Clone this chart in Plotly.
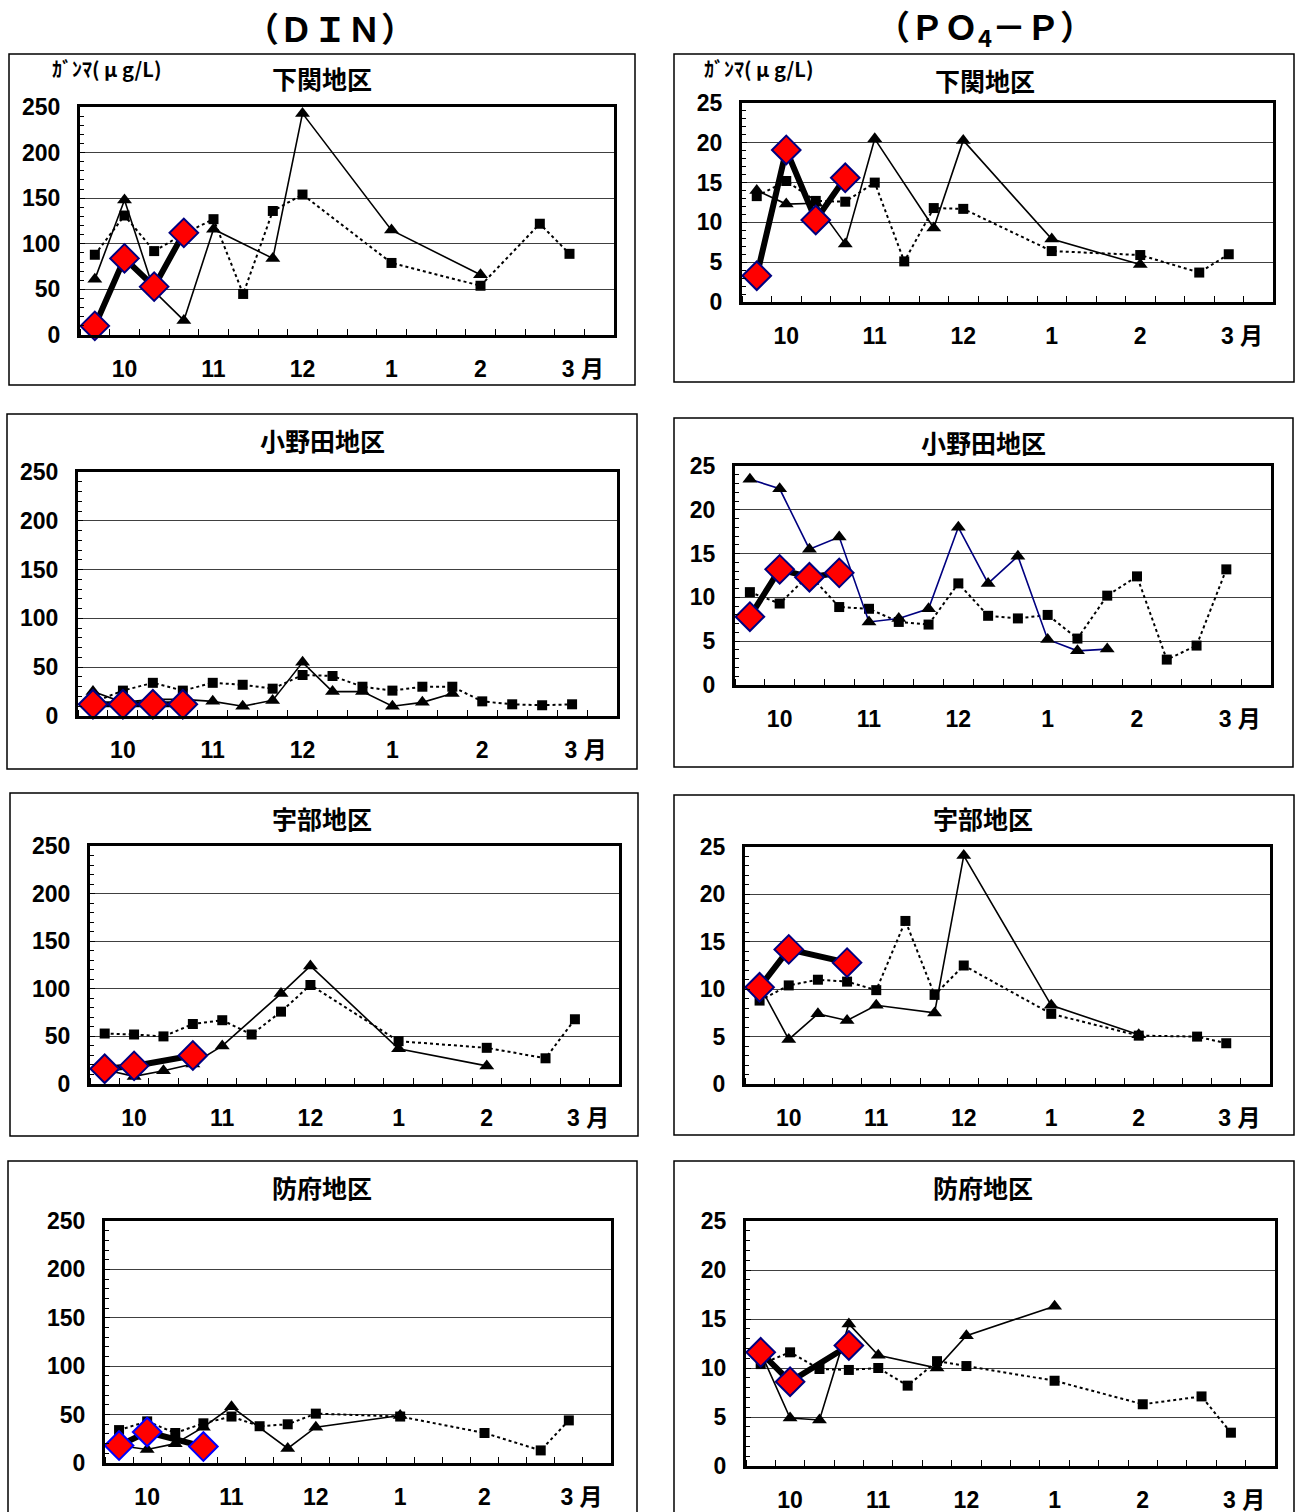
import plotly.graph_objects as go

W, H = 1297, 1512

# ---------------- data ----------------
MONTH_LABELS = ["10", "11", "12", "1", "2", "3 月"]
DIN_TICKS = [0, 50, 100, 150, 200, 250]
PO4_TICKS = [0, 5, 10, 15, 20, 25]
HEADERS = ["（ＤＩＮ）", "（ＰＯ<sub>4</sub>－Ｐ）"]
UNIT_LABEL = "ｶﾞﾝﾏ( μ g/L)"
AREAS = ["下関地区", "小野田地区", "宇部地区", "防府地区"]

N = None
# 18 slots: early / middle / late third of each month, Oct .. Mar
din_shimo_avg = [88, 131, 92, 111, 127, 45, 136, 154, N, N, 79, N, N, 54, N, 122, 89, N]
din_shimo_prev = [61, 148, 48, 16, 116, N, 84, 243, N, N, 115, N, N, 66, N, N, N, N]
din_shimo_cur = [10, 84, 53, 112, N, N, N, N, N, N, N, N, N, N, N, N, N, N]

po4_shimo_avg = [13.3, 15.2, 12.7, 12.6, 15.0, 5.1, 11.8, 11.7, N, N, 6.4, N, N, 5.9, N, 3.7, 6.0, N]
po4_shimo_prev = [14.0, 12.3, 12.4, 7.3, 20.5, N, 9.3, 20.3, N, N, 7.9, N, N, 4.7, N, N, N, N]
po4_shimo_cur = [3.3, 19.1, 10.3, 15.6, N, N, N, N, N, N, N, N, N, N, N, N, N, N]

din_onoda_avg = [14, 26, 34, 26, 34, 32, 28, 42, 41, 30, 26, 30, 30, 15, 12, 11, 12, N]
din_onoda_prev = [25, 14, 17, 17, 15, 10, 16, 55, 25, 25, 10, 14, 23, N, N, N, N, N]
din_onoda_cur = [12, 12, 12, 12, N, N, N, N, N, N, N, N, N, N, N, N, N, N]

po4_onoda_avg = [10.6, 9.3, 12.6, 8.9, 8.7, 7.2, 6.9, 11.6, 7.9, 7.6, 8.0, 5.3, 10.2, 12.4, 2.9, 4.5, 13.2, N]
po4_onoda_prev = [23.5, 22.4, 15.5, 16.9, 7.2, 7.6, 8.7, 18.0, 11.6, 14.7, 5.2, 3.9, 4.1, N, N, N, N, N]
po4_onoda_cur = [7.8, 13.2, 12.3, 12.8, N, N, N, N, N, N, N, N, N, N, N, N, N, N]

din_ube_avg = [53, 52, 50, 63, 67, 52, 76, 104, N, N, 45, N, N, 38, N, 27, 68, N]
din_ube_prev = [15, 8, 14, 21, 40, N, 95, 124, N, N, 37, N, N, 19, N, N, N, N]
din_ube_cur = [16, 19, N, 30, N, N, N, N, N, N, N, N, N, N, N, N, N, N]

po4_ube_avg = [8.8, 10.4, 11.0, 10.8, 9.9, 17.2, 9.4, 12.5, N, N, 7.4, N, N, 5.1, N, 5.0, 4.3, N]
po4_ube_prev = [10.4, 4.7, 7.4, 6.7, 8.3, N, 7.5, 24.1, N, N, 8.3, N, N, 5.2, N, N, N, N]
po4_ube_cur = [10.2, 14.2, N, 12.8, N, N, N, N, N, N, N, N, N, N, N, N, N, N]

din_hofu_avg = [34, 43, 31, 41, 48, 38, 40, 51, N, N, 48, N, N, 31, N, 13, 44, N]
din_hofu_prev = [18, 14, 20, 37, 58, N, 15, 37, N, N, 49, N, N, N, N, N, N, N]
din_hofu_cur = [18, 32, N, 17, N, N, N, N, N, N, N, N, N, N, N, N, N, N]

po4_hofu_avg = [10.4, 11.6, 9.9, 9.8, 10.0, 8.2, 10.7, 10.2, N, N, 8.7, N, N, 6.3, N, 7.1, 3.4, N]
po4_hofu_prev = [11.6, 4.9, 4.7, 14.5, 11.3, N, 10.0, 13.3, N, N, 16.3, N, N, N, N, N, N, N]
po4_hofu_cur = [11.6, 8.6, N, 12.3, N, N, N, N, N, N, N, N, N, N, N, N, N, N]

# ---------------- layout (pixel geometry) ----------------
PANELS = [
    dict(series=(din_shimo_avg, din_shimo_prev, din_shimo_cur), kind="din", area=0,
         plot=(80, 614, 107, 335), outer=(9, 635, 54, 385), ty=78, tx=322, unit=(106, 68)),
    dict(series=(po4_shimo_avg, po4_shimo_prev, po4_shimo_cur), kind="po4", area=0,
         plot=(742, 1273, 103, 302), outer=(674, 1294, 54, 382), ty=80, tx=985, unit=(758, 68)),
    dict(series=(din_onoda_avg, din_onoda_prev, din_onoda_cur), kind="din", area=1,
         plot=(78, 617, 472, 716), outer=(7, 637, 414, 769), ty=440, tx=322),
    dict(series=(po4_onoda_avg, po4_onoda_prev, po4_onoda_cur), kind="po4", area=1,
         plot=(735, 1271, 466, 685), outer=(674, 1293, 418, 767), ty=442, tx=983, navy=True),
    dict(series=(din_ube_avg, din_ube_prev, din_ube_cur), kind="din", area=2,
         plot=(90, 619, 846, 1084), outer=(10, 638, 793, 1136), ty=818, tx=322),
    dict(series=(po4_ube_avg, po4_ube_prev, po4_ube_cur), kind="po4", area=2,
         plot=(745, 1270, 847, 1084), outer=(674, 1294, 795, 1135), ty=818, tx=983),
    dict(series=(din_hofu_avg, din_hofu_prev, din_hofu_cur), kind="din", area=3,
         plot=(105, 611, 1221, 1463), outer=(8, 637, 1161, 1530), ty=1187, tx=322, blue=True),
    dict(series=(po4_hofu_avg, po4_hofu_prev, po4_hofu_cur), kind="po4", area=3,
         plot=(746, 1275, 1221, 1466), outer=(674, 1294, 1161, 1530), ty=1187, tx=983),
]

FONT = "Liberation Sans, Arial, Noto Sans CJK JP"
CJK = "Noto Sans CJK JP, Liberation Sans"

slots = list(range(18))
label_pos = [1 + 3 * i for i in range(len(MONTH_LABELS))]
label_pos[-1] += 0.45

fig = go.Figure()
layout = dict(
    width=W, height=H, margin=dict(l=0, r=0, t=0, b=0, autoexpand=False),
    paper_bgcolor="white", plot_bgcolor="white", showlegend=False,
    shapes=[], annotations=[],
)

for i, p in enumerate(PANELS, start=1):
    avg, prev, cur = p["series"]
    xa = "x" if i == 1 else f"x{i}"
    ya = "y" if i == 1 else f"y{i}"
    x0, x1, y0, y1 = p["plot"]
    din = p["kind"] == "din"
    prev_color = "#000080" if p.get("navy") else "black"
    dia_edge = "#0000FF" if p.get("blue") else "#000080"

    fig.add_trace(go.Scatter(
        x=slots, y=avg, xaxis=xa, yaxis=ya, mode="lines+markers", connectgaps=True,
        line=dict(color="black", width=2, dash="dot"),
        marker=dict(symbol="square", size=10, color="black"), cliponaxis=False))
    fig.add_trace(go.Scatter(
        x=slots, y=prev, xaxis=xa, yaxis=ya, mode="lines+markers", connectgaps=True,
        line=dict(color=prev_color, width=1.6),
        marker=dict(symbol="triangle-up", size=13, color="black"), cliponaxis=False))
    fig.add_trace(go.Scatter(
        x=slots, y=cur, xaxis=xa, yaxis=ya, mode="lines+markers", connectgaps=True,
        line=dict(color="black", width=6),
        marker=dict(symbol="diamond", size=22, color="#FF0000",
                    line=dict(color=dia_edge, width=2)), cliponaxis=False))

    layout["xaxis" if i == 1 else f"xaxis{i}"] = dict(
        domain=[x0 / W, x1 / W], anchor=ya, range=[-0.5, 17.5], automargin=False,
        tickmode="array", tickvals=label_pos, ticktext=MONTH_LABELS, ticks="",
        showgrid=False, zeroline=False, showline=True, linewidth=3, linecolor="black",
        mirror=True, ticklabelstandoff=11,
        tickfont=dict(family=FONT, size=23, color="black", weight="bold"),
        minor=dict(tickmode="linear", tick0=0.5, dtick=1, ticks="inside", ticklen=6,
                   tickwidth=1, tickcolor="black", showgrid=False),
        fixedrange=True,
    )
    layout["yaxis" if i == 1 else f"yaxis{i}"] = dict(
        domain=[1 - y1 / H, 1 - y0 / H], anchor=xa, automargin=False,
        range=[0, 250] if din else [0, 25],
        tickmode="array", tickvals=DIN_TICKS if din else PO4_TICKS,
        ticks="inside", ticklen=5, tickcolor="black",
        showgrid=True, gridcolor="#404040", gridwidth=1,
        zeroline=False, showline=True, linewidth=3, linecolor="black", mirror=True,
        ticklabelstandoff=12,
        tickfont=dict(family=FONT, size=23, color="black", weight="bold"),
        minor=dict(tickmode="linear", tick0=0, dtick=10 if din else 1, ticks="inside",
                   ticklen=4, tickwidth=1, tickcolor="black", showgrid=False),
        fixedrange=True,
    )

    ox0, ox1, oy0, oy1 = p["outer"]
    layout["shapes"].append(dict(
        type="rect", xref="paper", yref="paper",
        x0=ox0 / W, x1=ox1 / W, y0=1 - oy1 / H, y1=1 - oy0 / H,
        line=dict(color="black", width=1.5), layer="below"))

    layout["annotations"].append(dict(
        text=AREAS[p["area"]], xref="paper", yref="paper",
        x=p["tx"] / W, y=1 - p["ty"] / H, xanchor="center", yanchor="middle",
        showarrow=False, font=dict(family=CJK, size=25, color="black", weight="bold")))

    if "unit" in p:
        ux, uy = p["unit"]
        layout["annotations"].append(dict(
            text=UNIT_LABEL, xref="paper", yref="paper",
            x=ux / W, y=1 - uy / H, xanchor="center", yanchor="middle",
            showarrow=False, font=dict(family=CJK, size=20, color="black", weight="bold")))

for hx, htxt in zip([330, 985], HEADERS):
    layout["annotations"].append(dict(
        text=htxt, xref="paper", yref="paper", x=hx / W, y=1 - 27 / H,
        xanchor="center", yanchor="middle", showarrow=False,
        font=dict(family=CJK, size=34, color="black", weight="bold")))

fig.update_layout(**layout)
fig.write_html(
    "out.html",
    config={"displayModeBar": False},
    post_script="document.body.style.margin='0';document.body.style.overflow='hidden';",
)
